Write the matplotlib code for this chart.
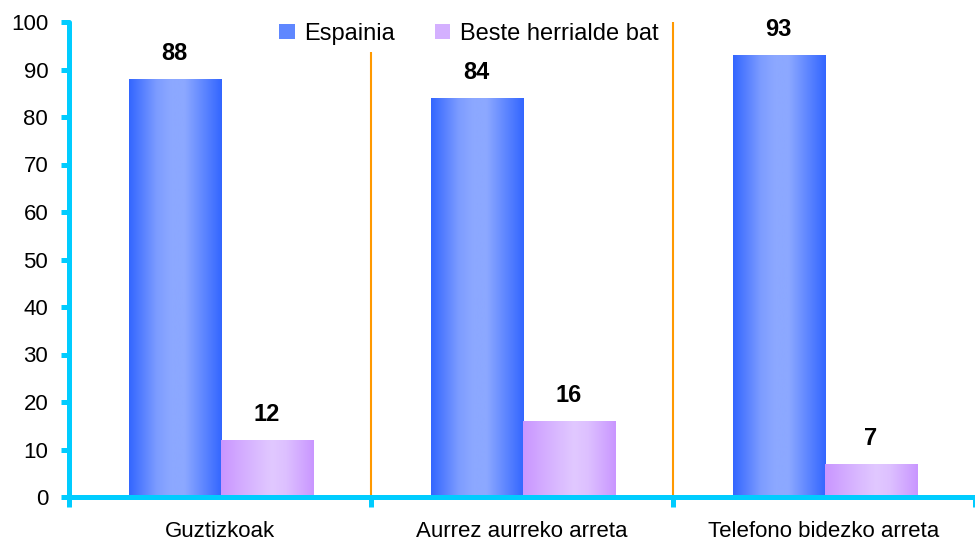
import numpy as np
import matplotlib
matplotlib.use("Agg")
import matplotlib.pyplot as plt
from matplotlib.patches import Patch
from matplotlib.colors import LinearSegmentedColormap

plt.rcParams['font.family'] = ['Liberation Sans', 'DejaVu Sans']

# Data
categories = ["Guztizkoak", "Aurrez aurreko arreta", "Telefono bidezko arreta"]
series_names = ["Espainia", "Beste herrialde bat"]
espainia = [88, 84, 93]
beste = [12, 16, 7]

cyan = "#00CCFF"
orange = "#FF9900"

# gradient maps: dark edges, light centre
blue_cmap = LinearSegmentedColormap.from_list(
    "blue", [(0, "#3366FF"), (0.3, "#7D9CFF"), (0.45, "#8CA8FF"), (0.6, "#8CA8FF"), (1, "#3366FF")])
lav_cmap = LinearSegmentedColormap.from_list(
    "lav", [(0, "#C996FF"), (0.35, "#D9B8FF"), (0.55, "#E1C8FF"), (0.7, "#DDC0FF"), (1, "#C996FF")])

fig = plt.figure(figsize=(9.75, 5.5), dpi=100)
ax = fig.add_axes([69 / 975, 53 / 550, 906 / 975, 475 / 550])

x = np.arange(len(categories))
width = 0.305
b1 = ax.bar(x + 0.35, espainia, width, facecolor="none", edgecolor="none")
b2 = ax.bar(x + 0.655, beste, width, facecolor="none", edgecolor="none")

grad = np.linspace(0, 1, 256).reshape(1, -1)
for bars, cmap, vals in [(b1, blue_cmap, espainia), (b2, lav_cmap, beste)]:
    for bar, v in zip(bars, vals):
        x0, y0 = bar.get_x(), bar.get_y()
        w, h = bar.get_width(), bar.get_height()
        im = ax.imshow(grad, cmap=cmap, aspect="auto",
                       extent=(x0, x0 + w, y0, y0 + h), zorder=2)
        im.set_clip_path(bar)
        ax.annotate(f"{v}", (x0 + w / 2, h), xytext=(0, 10),
                    textcoords="offset points", ha="center", va="bottom",
                    fontsize=17, fontweight="bold")

# separators between groups
for s in [1, 2]:
    ax.plot([s, s], [0, 100], color=orange, lw=1.5, zorder=1)

ax.set_xlim(0, 906 / 304.5)
ax.set_ylim(0, 100)

for side in ["top", "right"]:
    ax.spines[side].set_visible(False)
for side in ["left", "bottom"]:
    ax.spines[side].set_color(cyan)
    ax.spines[side].set_linewidth(3.6)
    ax.spines[side].set_capstyle("round")

ax.set_yticks(range(0, 101, 10))
ax.set_xticks([0, 1, 2, 3])
ax.set_xticklabels([])
ax.set_xticks(x + 0.5, minor=True)
ax.set_xticklabels(categories, minor=True)
ax.tick_params(axis="y", colors=cyan, width=3.6, length=6, labelsize=16,
               labelcolor="black", pad=9)
ax.tick_params(axis="x", which="major", colors=cyan, width=3.6, length=7)
ax.tick_params(axis="x", which="minor", length=0, labelsize=16, pad=17)

handles = [Patch(facecolor="#5F87FF", edgecolor="none"),
           Patch(facecolor="#D4B0FF", edgecolor="none")]
leg = fig.legend(handles, series_names, loc="upper center",
                 bbox_to_anchor=(469 / 975, 1 - 4 / 550), ncol=2, fontsize=17,
                 frameon=True, facecolor="white", edgecolor="none", framealpha=1,
                 handlelength=0.65, handleheight=0.65, handletextpad=0.4,
                 columnspacing=1.7, borderpad=0.3, fancybox=False)

fig.savefig("out.png", dpi=100)
